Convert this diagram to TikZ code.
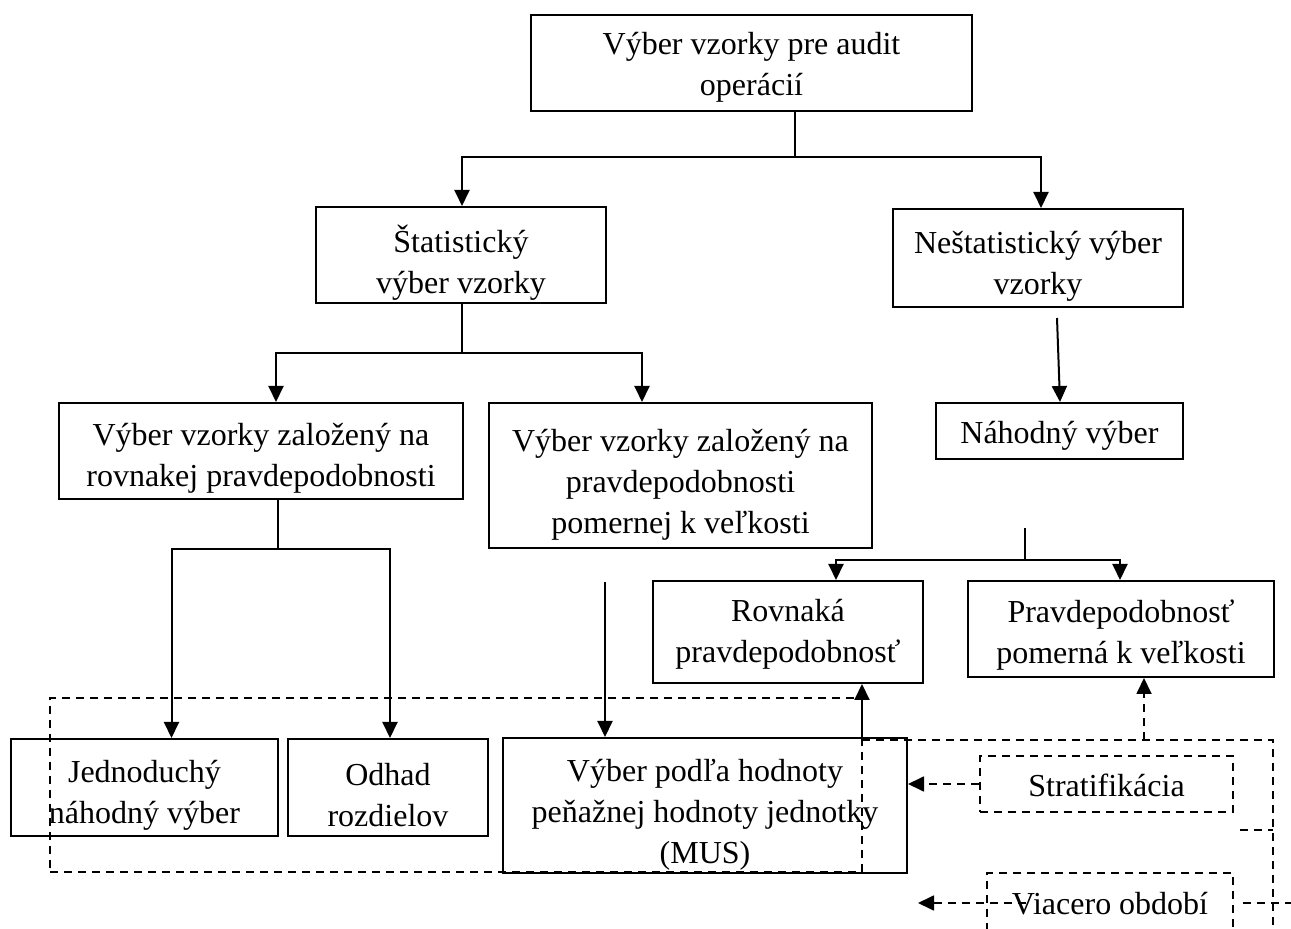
\documentclass[tikz,border=0pt]{standalone}
\usepackage{fontspec}
\setmainfont{Liberation Serif}
\usetikzlibrary{arrows.meta}
\newcommand\bx[7]{%
  \node[#1,minimum width=#4*0.5pt,minimum height=#5*0.5pt] (#2) at (#3) {};
  \node[txt] (#2t) at ([yshift=-#6*0.5pt]#2.center) {#7};}
\begin{document}
\begin{tikzpicture}[x=0.5pt,y=-0.5pt,
  box/.style={draw,line width=1pt,inner sep=0pt},
  dbox/.style={box,dash pattern=on 4pt off 3pt},
  txt/.style={align=center,inner sep=0pt,font=\fontsize{16}{20.5}\selectfont},
  ln/.style={line width=1pt},
  arr/.style={line width=1pt,-{Triangle[length=8pt,width=7.5pt]}},
  dl/.style={line width=0.9pt,dash pattern=on 4pt off 3pt},
  darr/.style={dl,-{Triangle[length=8pt,width=7.5pt]}}]
\path[use as bounding box] (0,0) rectangle (1291,929);
\clip (0,0) rectangle (1291,929);

% dashed grouping frame
\node[draw,dl,minimum width=406pt,minimum height=87pt,inner sep=0pt] (grp) at (456,785) {};

\bx{box}{b1}{751.5,63}{441}{96}{4}{Výber vzorky pre audit\\operácií}
\bx{box}{b2}{461,255}{290}{96}{7.5}{Štatistický\\výber vzorky}
\bx{box}{b3}{1038,258}{290}{98}{8}{Neštatistický výber\\vzorky}
\bx{box}{b4}{261,451}{404}{96}{7.5}{Výber vzorky založený na\\rovnakej pravdepodobnosti}
\bx{box}{b5}{680.5,475.5}{383}{145}{9}{Výber vzorky založený na\\pravdepodobnosti\\pomernej k veľkosti}
\bx{box}{b6}{1059.5,431}{247}{56}{4.5}{Náhodný výber}
\bx{box}{b7}{788,632}{270}{102}{2.5}{Rovnaká\\pravdepodobnosť}
\bx{box}{b8}{1121,629}{306}{96}{6}{Pravdepodobnosť\\pomerná k veľkosti}
\bx{box}{b9}{144.5,787.5}{267}{97}{7.5}{Jednoduchý\\náhodný výber}
\bx{box}{b10}{388,787.5}{200}{97}{7.5}{Odhad\\rozdielov}
\bx{box}{b11}{705,805.5}{404}{135}{9}{Výber podľa hodnoty\\peňažnej hodnoty jednotky\\(MUS)}
\bx{dbox}{strat}{1106.5,784}{253}{56}{1}{Stratifikácia}
\bx{dbox}{via}{1110,903}{246}{60}{1}{Viacero období}

% tree connectors
\coordinate (j1) at (795,157);
\draw[ln] ([xshift=21.75pt]b1.south) -- (j1);
\draw[arr] (j1) -| ([xshift=0.5pt]b2.north);
\draw[arr] (j1) -| ([xshift=1.5pt]b3.north);

\coordinate (j2) at (462,353);
\draw[ln] ([xshift=0.5pt]b2.south) -- (j2);
\draw[arr] (j2) -| ([xshift=7.5pt]b4.north);
\draw[arr] (j2) -| ([xshift=-19.25pt]b5.north);

\draw[arr] ([xshift=9.5pt,yshift=-5pt]b3.south) -- ([xshift=0.25pt]b6.north);

\coordinate (s6) at (1025,528);
\coordinate (j3) at (1025,560);
\draw[ln] (s6) -- (j3);
\draw[arr] (j3) -| ([xshift=24pt]b7.north);
\draw[arr] (j3) -| ([xshift=-0.5pt]b8.north);

\coordinate (j4) at (278,549);
\draw[ln] ([xshift=8.5pt]b4.south) -- (j4);
\draw[arr] (j4) -| ([xshift=13.5pt]b9.north);
\draw[arr] (j4) -| ([xshift=1pt]b10.north);

\coordinate (s5) at (605,582);
\draw[arr] (s5) -- ([xshift=-50pt]b11.north);

\draw[arr] ([xshift=78.5pt]b11.north) -- ([xshift=37pt]b7.south);

% dashed connectors on the right
\coordinate (d1) at (862,740);
\coordinate (d2) at (1273,740);
\coordinate (d3) at (1273,935);
\coordinate (d4) at (1144,740);
\draw[dl] (d1) -- (d2) -- (d3);
\draw[darr] (d4) -- ([xshift=11.5pt]b8.south);
\draw[darr] (strat.west) -- (strat.west -| b11.east);
\coordinate (e1) at (1240,830);
\coordinate (e2) at (1273,830);
\draw[dl] (e1) -- (e2);
\coordinate (f1) at (1243,903);
\coordinate (f2) at (1291,903);
\draw[dl] (f1) -- (f2);
\coordinate (vt) at (918,903);
\draw[darr] ([xshift=20pt]via.west) -- (vt);
\end{tikzpicture}
\end{document}
